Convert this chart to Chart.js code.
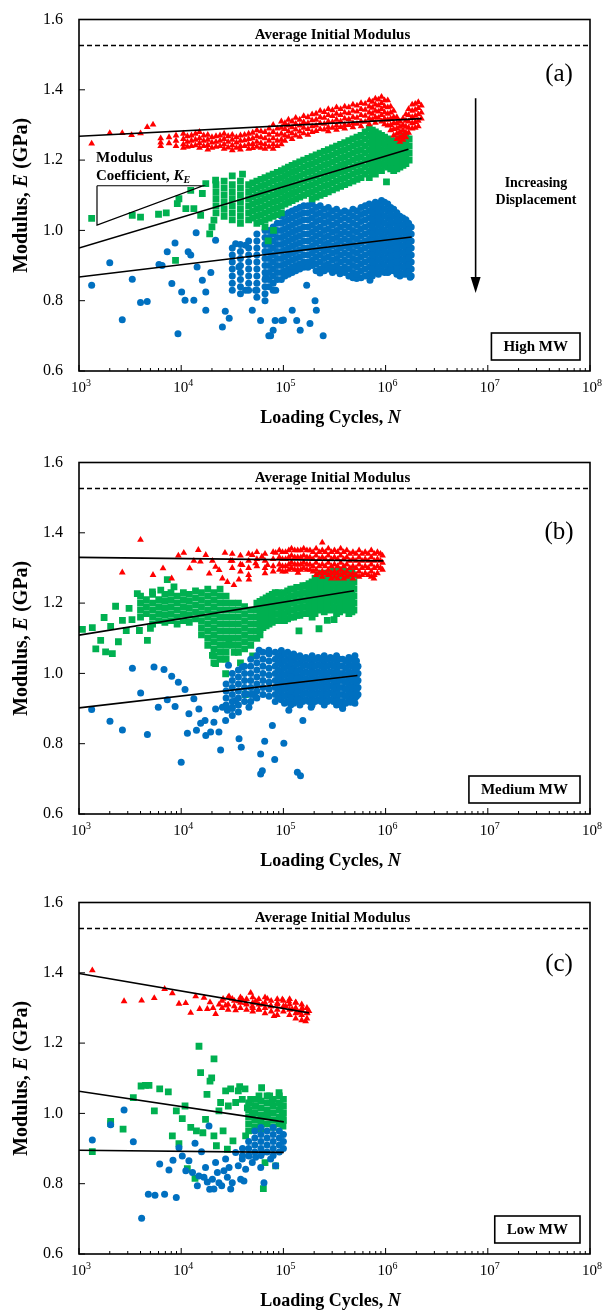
<!DOCTYPE html>
<html><head><meta charset="utf-8">
<script src="https://cdn.jsdelivr.net/npm/chart.js@4"></script>
<style>
html,body{margin:0;padding:0;background:#fff;}
.p{position:absolute;left:0;width:603px;}
canvas{display:block;}
</style></head><body>
<div class="p" style="top:0;height:437px"><canvas id="ca" width="603" height="437"></canvas></div>
<div class="p" style="top:443px;height:437px"><canvas id="cb" width="603" height="437"></canvas></div>
<div class="p" style="top:883px;height:427px"><canvas id="cc" width="603" height="427"></canvas></div>
<script>
// ---------- shared axis data ----------
const xTickExps = [3,4,5,6,7,8];
const yTicks = [0.6,0.8,1.0,1.2,1.4,1.6];
const avgInitialModulus = 1.526;

// ---------- Panel (a) High MW ----------
const aRedPts = [[1330,1.247],[2000,1.277],[2650,1.277],[3270,1.271],[4000,1.276],[4650,1.294],[5300,1.301]];
const aRedCols = [
[6300,[1.262,1.25,1.24]],[7600,[1.265,1.248]],[8900,[1.27,1.255,1.24]],[10500,[1.275,1.26,1.245,1.235]],
[12600,[1.27,1.255,1.24]],[15100,[1.28,1.262,1.248,1.235]],[18200,[1.272,1.258,1.243,1.23]],[21900,[1.268,1.252,1.238]],
[26300,[1.275,1.26,1.245,1.232]],[31600,[1.272,1.258,1.242,1.228]],[38000,[1.27,1.255,1.24,1.23]],[45700,[1.275,1.26,1.245,1.232]],
[55000,[1.285,1.268,1.252,1.238]],[66100,[1.28,1.262,1.245,1.232]],[79400,[1.3,1.28,1.262,1.245,1.232]],[95500,[1.31,1.292,1.275,1.258,1.245]],
[112000,[1.315,1.298,1.282,1.266]],[132000,[1.32,1.303,1.287,1.27]],[158000,[1.325,1.308,1.292,1.276]],[191000,[1.33,1.313,1.296,1.28]],
[229000,[1.34,1.322,1.305,1.288]],[275000,[1.345,1.328,1.31,1.293,1.282]],[331000,[1.35,1.332,1.315,1.298,1.286]],[398000,[1.352,1.335,1.318,1.3,1.29]],
[479000,[1.358,1.34,1.322,1.305,1.293]],[575000,[1.362,1.345,1.328,1.31,1.296]],[692000,[1.37,1.352,1.335,1.318,1.302]],[794000,[1.375,1.358,1.34,1.322,1.306]],
[912000,[1.38,1.362,1.345,1.328,1.31]],[1050000,[1.37,1.35,1.332,1.315,1.298]],[1200000,[1.34,1.322,1.305,1.288,1.27]],[1380000,[1.31,1.295,1.28,1.265,1.252]],
[1580000,[1.33,1.312,1.295,1.278,1.265]],[1820000,[1.358,1.34,1.322,1.305,1.29]],[2090000,[1.365,1.348,1.33,1.312,1.296]],[2240000,[1.355,1.335,1.318]]
];
const aRedColsMid = [
[11500,[1.268,1.252,1.238]],[13800,[1.275,1.258,1.242]],[16600,[1.27,1.255,1.24]],[20000,[1.265,1.25,1.235]],[24000,[1.27,1.255,1.24]],
[28800,[1.268,1.252,1.236]],[34700,[1.265,1.25,1.235]],[41700,[1.272,1.256,1.24]],[50100,[1.278,1.262,1.246,1.234]],[60300,[1.282,1.265,1.248,1.235]],
[72400,[1.29,1.272,1.255,1.238]],[87100,[1.29,1.272,1.255,1.24]],[103500,[1.305,1.288,1.27,1.255]],[121600,[1.31,1.293,1.276,1.26]],
[144500,[1.315,1.298,1.281,1.266]],[173800,[1.322,1.305,1.288,1.272]],[208900,[1.332,1.315,1.298,1.283]],[251200,[1.337,1.32,1.303,1.287]],
[302000,[1.342,1.325,1.308,1.292]],[363100,[1.345,1.328,1.31,1.294]],[436500,[1.35,1.333,1.316,1.3]],[524800,[1.355,1.338,1.32,1.303]],
[631000,[1.36,1.343,1.326,1.309]],[741300,[1.366,1.349,1.332,1.315]],[851100,[1.372,1.355,1.338,1.32]],[977200,[1.37,1.353,1.336,1.318,1.302]],
[1122000,[1.352,1.335,1.318,1.3,1.285]],[1288000,[1.322,1.305,1.29,1.275,1.26]],[1479000,[1.318,1.3,1.285,1.27,1.258]],
[1679000,[1.345,1.328,1.31,1.292,1.278]],[1950000,[1.36,1.343,1.326,1.308,1.292]]
];
const aGreenPts = [[1330,1.034],[3320,1.043],[4000,1.038],[6000,1.046],[7140,1.05],[8800,0.915],[9160,1.076],[9500,1.09],[11100,1.062],
[12400,1.114],[13300,1.062],[15500,1.043],[16100,1.105],[17400,1.133],[19000,0.99],[20000,1.01],[20900,1.029],[21700,1.143],
[31600,1.155],[39800,1.16],[71000,0.97],[80000,1.0],[1020000,1.138]];
const aGreenCols = [
[21900,[1.13,1.11,1.09,1.07,1.05]],[26300,[1.14,1.12,1.1,1.08,1.06,1.04]],[31600,[1.13,1.11,1.09,1.07,1.05,1.03]],
[38000,[1.14,1.12,1.1,1.08,1.06,1.04,1.02]],[45700,[1.13,1.11,1.09,1.07,1.05,1.03]],[55000,[1.14,1.12,1.1,1.08,1.06,1.04,1.02]],
[66100,[1.15,1.13,1.11,1.09,1.07,1.05,1.03,1.01]],[79400,[1.16,1.14,1.12,1.1,1.08,1.06,1.04]],[95500,[1.17,1.15,1.13,1.11,1.09,1.07,1.05]],
[112000,[1.18,1.16,1.14,1.12,1.1,1.08]],[132000,[1.19,1.17,1.15,1.13,1.11,1.09]],[158000,[1.2,1.18,1.16,1.14,1.12,1.1]],
[191000,[1.21,1.19,1.17,1.15,1.13,1.11,1.09]],[229000,[1.22,1.2,1.18,1.16,1.14,1.12,1.1]],[275000,[1.23,1.21,1.19,1.17,1.15,1.13,1.11]],
[331000,[1.24,1.22,1.2,1.18,1.16,1.14,1.12]],[398000,[1.25,1.23,1.21,1.19,1.17,1.15,1.13]],[479000,[1.26,1.24,1.22,1.2,1.18,1.16,1.14]],
[575000,[1.27,1.25,1.23,1.21,1.19,1.17,1.15]],[692000,[1.29,1.27,1.25,1.23,1.21,1.19,1.17,1.15]],[794000,[1.28,1.26,1.24,1.22,1.2,1.18,1.16]],
[912000,[1.27,1.25,1.23,1.21,1.19,1.17]],[1050000,[1.26,1.24,1.22,1.2,1.18]],[1200000,[1.25,1.23,1.21,1.19,1.17]],
[1380000,[1.26,1.24,1.22,1.2,1.18]],[1580000,[1.27,1.25,1.23,1.21,1.19]],[1700000,[1.26,1.24,1.22,1.2]]
];
const aGreenColsMid = [
[50100,[1.135,1.115,1.095,1.075,1.055,1.035]],[60300,[1.145,1.125,1.105,1.085,1.065,1.045,1.025]],[72400,[1.155,1.135,1.115,1.095,1.075,1.055,1.035]],
[87100,[1.165,1.145,1.125,1.105,1.085,1.065,1.045]],[103500,[1.175,1.155,1.135,1.115,1.095,1.075]],[121600,[1.185,1.165,1.145,1.125,1.105,1.085]],
[144500,[1.195,1.175,1.155,1.135,1.115,1.095]],[173800,[1.205,1.185,1.165,1.145,1.125,1.105]],[208900,[1.215,1.195,1.175,1.155,1.135,1.115,1.095]],
[251200,[1.225,1.205,1.185,1.165,1.145,1.125,1.105]],[302000,[1.235,1.215,1.195,1.175,1.155,1.135,1.115]],[363100,[1.245,1.225,1.205,1.185,1.165,1.145,1.125]],
[436500,[1.255,1.235,1.215,1.195,1.175,1.155,1.135]],[524800,[1.265,1.245,1.225,1.205,1.185,1.165,1.145]],[631000,[1.28,1.26,1.24,1.22,1.2,1.18,1.16]],
[741300,[1.285,1.265,1.245,1.225,1.205,1.185,1.165]],[851100,[1.275,1.255,1.235,1.215,1.195,1.175]],[977200,[1.265,1.245,1.225,1.205,1.185]],
[1122000,[1.255,1.235,1.215,1.195,1.175]],[1288000,[1.255,1.235,1.215,1.195,1.175]],[1479000,[1.265,1.245,1.225,1.205,1.185]]
];
const aBluePts = [[1330,0.844],[2000,0.908],[2650,0.746],[3320,0.861],[4000,0.795],[4650,0.798],[6060,0.903],[6500,0.9],[7300,0.939],
[8100,0.849],[8700,0.964],[9300,0.706],[10100,0.825],[10900,0.801],[11700,0.939],[12400,0.93],[13300,0.801],[14000,0.993],[14300,0.896],
[16100,0.858],[17400,0.825],[17400,0.773],[19500,0.88],[21700,0.972],[25300,0.725],[27000,0.77],[29500,0.75],[34100,0.962],[36700,0.896],
[42700,0.958],[42700,0.83],[49600,0.773],[53500,0.83],[59800,0.744],[67100,0.867],[75000,0.70],[72000,0.70],[79400,0.716],[84100,0.83],
[83000,0.744],[96200,0.744],[100000,0.745],[122000,0.773],[135000,0.744],[146000,0.716],[169000,0.844],[182000,0.735],[204000,0.8],
[210000,0.773],[245000,0.70],[228000,0.879],[358000,0.877],[521000,0.863],[703000,0.858],[1060000,0.882],[1740000,0.867]];
const aBlueCols = [
[31600,[0.95,0.93,0.91,0.89,0.87,0.85,0.83]],[38000,[0.96,0.94,0.92,0.9,0.88,0.86,0.84,0.82]],[45700,[0.97,0.95,0.93,0.91,0.89,0.87,0.85,0.83]],
[55000,[0.99,0.97,0.95,0.93,0.91,0.89,0.87,0.85,0.83,0.81]],[66100,[1.0,0.98,0.96,0.94,0.92,0.9,0.88,0.86,0.84,0.82,0.8]],
[79400,[1.01,0.99,0.97,0.95,0.93,0.91,0.89,0.87,0.85,0.83]],[95500,[1.04,1.02,1.0,0.98,0.96,0.94,0.92,0.9,0.88,0.86]],
[112000,[1.05,1.03,1.01,0.99,0.97,0.95,0.93,0.91,0.89,0.875]],[132000,[1.06,1.04,1.02,1.0,0.98,0.96,0.94,0.92,0.9,0.885]],
[158000,[1.07,1.05,1.03,1.01,0.99,0.97,0.95,0.93,0.91,0.895]],[191000,[1.075,1.055,1.035,1.015,0.995,0.975,0.955,0.935,0.915,0.9]],
[229000,[1.07,1.05,1.03,1.01,0.99,0.97,0.95,0.93,0.91,0.89,0.88]],[275000,[1.065,1.045,1.025,1.005,0.985,0.965,0.945,0.925,0.905,0.89]],
[331000,[1.06,1.04,1.02,1.0,0.98,0.96,0.94,0.92,0.9,0.885]],[398000,[1.055,1.035,1.015,0.995,0.975,0.955,0.935,0.915,0.895,0.88]],
[479000,[1.06,1.04,1.02,1.0,0.98,0.96,0.94,0.92,0.9,0.88,0.865]],[575000,[1.065,1.045,1.025,1.005,0.985,0.965,0.945,0.925,0.905,0.885,0.865]],
[692000,[1.075,1.055,1.035,1.015,0.995,0.975,0.955,0.935,0.915,0.895,0.875]],[794000,[1.08,1.06,1.04,1.02,1.0,0.98,0.96,0.94,0.92,0.9,0.88]],
[912000,[1.085,1.065,1.045,1.025,1.005,0.985,0.965,0.945,0.925,0.905,0.885]],[1050000,[1.075,1.055,1.035,1.015,0.995,0.975,0.955,0.935,0.915,0.895,0.88]],
[1200000,[1.06,1.04,1.02,1.0,0.98,0.96,0.94,0.92,0.9,0.885]],[1380000,[1.04,1.02,1.0,0.98,0.96,0.94,0.92,0.9,0.88,0.87]],
[1580000,[1.03,1.01,0.99,0.97,0.95,0.93,0.91,0.89,0.875]],[1780000,[1.01,0.99,0.97,0.95,0.93,0.91,0.89,0.87]]
];
const aBlueColsMid = [
[72400,[1.0,0.98,0.96,0.94,0.92,0.9,0.88,0.86,0.84]],[87100,[1.02,1.0,0.98,0.96,0.94,0.92,0.9,0.88,0.86]],
[103500,[1.045,1.025,1.005,0.985,0.965,0.945,0.925,0.905,0.885,0.87]],[121600,[1.055,1.035,1.015,0.995,0.975,0.955,0.935,0.915,0.895,0.88]],
[144500,[1.065,1.045,1.025,1.005,0.985,0.965,0.945,0.925,0.905,0.89]],[173800,[1.07,1.05,1.03,1.01,0.99,0.97,0.95,0.93,0.91,0.895]],
[208900,[1.065,1.045,1.025,1.005,0.985,0.965,0.945,0.925,0.905,0.885]],[251200,[1.06,1.04,1.02,1.0,0.98,0.96,0.94,0.92,0.9,0.885]],
[302000,[1.055,1.035,1.015,0.995,0.975,0.955,0.935,0.915,0.895,0.88]],[363100,[1.05,1.03,1.01,0.99,0.97,0.95,0.93,0.91,0.89]],
[436500,[1.05,1.03,1.01,0.99,0.97,0.95,0.93,0.91,0.89,0.87]],[524800,[1.055,1.035,1.015,0.995,0.975,0.955,0.935,0.915,0.895,0.875]],
[631000,[1.07,1.05,1.03,1.01,0.99,0.97,0.95,0.93,0.91,0.89,0.87]],[741300,[1.07,1.05,1.03,1.01,0.99,0.97,0.95,0.93,0.91,0.89,0.87]],
[851100,[1.075,1.055,1.035,1.015,0.995,0.975,0.955,0.935,0.915,0.895,0.875]],[977200,[1.08,1.06,1.04,1.02,1.0,0.98,0.96,0.94,0.92,0.9,0.88]],
[1122000,[1.065,1.045,1.025,1.005,0.985,0.965,0.945,0.925,0.905,0.885]],[1288000,[1.05,1.03,1.01,0.99,0.97,0.95,0.93,0.91,0.89,0.875]],
[1479000,[1.035,1.015,0.995,0.975,0.955,0.935,0.915,0.895,0.875]],[1679000,[1.02,1.0,0.98,0.96,0.94,0.92,0.9,0.88]]
];
const aRedFit = [[1000,1.268],[2250000,1.318]];
const aGreenFit = [[1000,0.950],[1670000,1.231]];
const aBlueFit = [[1000,0.8675],[1800000,0.981]];
const aSlopeTriangle = [[1500,1.127],[1500,1.015],[16300,1.127],[1500,1.127]];
const aArrow = [[7600000,1.376],[7600000,0.822]];

// ---------- Panel (b) Medium MW ----------
const bRedPts = [[4000,1.38],[2650,1.287],[5300,1.28],[6640,1.299],[8070,1.27],[9380,1.335],[10600,1.343],[12100,1.299],[13300,1.32],
[14700,1.351],[15400,1.318],[17400,1.337],[18800,1.284],[20200,1.32],[21700,1.303],[23500,1.294],[25300,1.27],[26800,1.343],[28300,1.26],
[30500,1.32],[32800,1.251],[36700,1.267],[39600,1.308],[46000,1.267],[49600,1.337],[53500,1.313],[61600,1.332],[70000,1.308],[84000,1.343],
[139000,1.286],[240000,1.372],[769000,1.27]];
const bRedCols = [
[31600,[1.34,1.32,1.30]],[38000,[1.335,1.31,1.29]],[45700,[1.34,1.32,1.30,1.28]],[55000,[1.345,1.325,1.305]],[66100,[1.34,1.32,1.30,1.285]],
[79400,[1.345,1.325,1.305,1.29]],[91200,[1.35,1.33,1.31,1.295]],[105000,[1.345,1.325,1.305,1.29]],[120000,[1.355,1.335,1.315,1.3]],
[138000,[1.35,1.33,1.31,1.295]],[158000,[1.355,1.335,1.315,1.3]],[182000,[1.35,1.33,1.31,1.295]],[209000,[1.355,1.335,1.315,1.295,1.28]],
[240000,[1.35,1.33,1.31,1.29,1.275]],[275000,[1.355,1.335,1.315,1.295,1.28]],[316000,[1.35,1.33,1.31,1.29,1.275]],
[363000,[1.355,1.335,1.315,1.295,1.28]],[417000,[1.35,1.33,1.31,1.29,1.275]],[479000,[1.345,1.325,1.305,1.285,1.27]],
[550000,[1.35,1.33,1.31,1.29,1.275]],[631000,[1.345,1.325,1.305,1.285]],[724000,[1.35,1.33,1.31,1.29,1.275]],
[832000,[1.345,1.325,1.305,1.285]],[933000,[1.335,1.315,1.295]]
];
const bRedColsMid = [
[98000,[1.345,1.325,1.305,1.29]],[113000,[1.35,1.33,1.31,1.295]],[129000,[1.35,1.33,1.31,1.295]],[148000,[1.35,1.33,1.31,1.295]],
[170000,[1.35,1.33,1.31,1.295]],[195000,[1.345,1.325,1.305,1.29]],[224000,[1.345,1.325,1.305,1.285]],[257000,[1.345,1.325,1.305,1.285]],
[295000,[1.345,1.325,1.305,1.285,1.27]],[339000,[1.345,1.325,1.305,1.285,1.27]],[389000,[1.345,1.325,1.305,1.285,1.27]],
[447000,[1.34,1.32,1.30,1.28]],[513000,[1.34,1.32,1.30,1.28]],[589000,[1.34,1.32,1.30,1.28]],[676000,[1.34,1.32,1.30,1.28]],
[776000,[1.34,1.32,1.30,1.28]],[891000,[1.34,1.32,1.30]]
];
const bGreenPts = [[1080,1.125],[1350,1.13],[1460,1.07],[1630,1.094],[1760,1.159],[1820,1.061],[2040,1.134],[2120,1.056],[2280,1.191],
[2430,1.09],[2660,1.151],[2900,1.122],[3090,1.185],[3300,1.153],[3720,1.227],[3900,1.122],[4670,1.094],[5000,1.128],[5230,1.232],
[6310,1.237],[7310,1.267],[8500,1.246],[20200,1.051],[21700,1.028],[27200,0.999],[29300,1.094],[42500,0.94],[142000,1.121],
[223000,1.127],[269000,1.151],[313000,1.153],[24000,1.04],[33000,1.06],[38000,1.03],[50000,1.05]];
const bGreenCols = [
[4000,[1.22,1.2,1.18,1.16]],[4570,[1.21,1.19,1.17]],[5250,[1.225,1.2,1.18,1.16,1.14]],[6030,[1.21,1.19,1.17,1.15]],
[6920,[1.225,1.205,1.185,1.165,1.145]],[7940,[1.23,1.21,1.19,1.17,1.15]],[9120,[1.22,1.2,1.18,1.16,1.14]],[10500,[1.23,1.21,1.19,1.17,1.15]],
[12000,[1.225,1.205,1.185,1.165,1.145]],[13800,[1.235,1.215,1.195,1.175,1.155]],[15800,[1.23,1.21,1.19,1.17,1.15,1.13,1.11]],
[18200,[1.24,1.22,1.2,1.18,1.16,1.14,1.12,1.1,1.08]],[20900,[1.23,1.21,1.19,1.17,1.15,1.13,1.11,1.09,1.07,1.05,1.03]],
[24000,[1.24,1.22,1.2,1.18,1.16,1.14,1.12,1.1,1.08,1.06]],[27500,[1.22,1.2,1.18,1.16,1.14,1.12,1.1,1.08,1.06,1.04]],
[31600,[1.2,1.18,1.16,1.14,1.12,1.1,1.08]],[36300,[1.2,1.18,1.16,1.14,1.12,1.1,1.08,1.06]],[41700,[1.19,1.17,1.15,1.13,1.11,1.09,1.07]],
[47900,[1.18,1.16,1.14,1.12,1.1,1.08]],[55000,[1.2,1.18,1.16,1.14,1.12,1.1]],[63100,[1.21,1.19,1.17,1.15,1.13]],
[72400,[1.22,1.2,1.18,1.16,1.14]],[83200,[1.23,1.21,1.19,1.17,1.15]],[95500,[1.225,1.205,1.185,1.165,1.15]],
[110000,[1.235,1.215,1.195,1.175,1.155]],[126000,[1.24,1.22,1.2,1.18,1.16]],[145000,[1.245,1.225,1.205,1.185,1.165]],
[166000,[1.25,1.23,1.21,1.19,1.17]],[191000,[1.26,1.24,1.22,1.2,1.18,1.16]],[219000,[1.28,1.26,1.24,1.22,1.2,1.18]],
[251000,[1.275,1.255,1.235,1.215,1.195,1.175]],[288000,[1.28,1.26,1.24,1.22,1.2,1.18]],[331000,[1.285,1.265,1.245,1.225,1.205,1.185,1.17]],
[380000,[1.28,1.26,1.24,1.22,1.2,1.18]],[437000,[1.285,1.265,1.245,1.225,1.205,1.185,1.17]],[490000,[1.28,1.26,1.24,1.22,1.2,1.18]]
];
const bGreenColsMid = [
[59000,[1.205,1.185,1.165,1.145,1.125,1.11]],[67800,[1.215,1.195,1.175,1.155,1.135]],[77800,[1.225,1.205,1.185,1.165,1.145]],
[89300,[1.23,1.21,1.19,1.17,1.15]],[102500,[1.23,1.21,1.19,1.17,1.15]],[118000,[1.24,1.22,1.2,1.18,1.16]],
[135000,[1.245,1.225,1.205,1.185,1.165]],[155000,[1.25,1.23,1.21,1.19,1.17]],[178000,[1.255,1.235,1.215,1.195,1.175]],
[204000,[1.27,1.25,1.23,1.21,1.19,1.17]],[234000,[1.285,1.265,1.245,1.225,1.205,1.185]],[269000,[1.285,1.265,1.245,1.225,1.205,1.185]],
[309000,[1.29,1.27,1.25,1.23,1.21,1.19]],[355000,[1.29,1.27,1.25,1.23,1.21,1.19,1.175]],[407000,[1.29,1.27,1.25,1.23,1.21,1.19]],
[468000,[1.29,1.27,1.25,1.23,1.21,1.19,1.175]]
];
const bBluePts = [[1330,0.897],[2010,0.864],[2660,0.839],[3330,1.015],[4010,0.944],[4670,0.826],[5420,1.018],[5970,0.904],[6790,1.011],
[7310,0.925],[8070,0.992],[8710,0.906],[9380,0.975],[10000,0.747],[10900,0.954],[11500,0.83],[11900,0.885],[13300,0.928],[14100,0.838],
[14900,0.899],[15500,0.858],[17100,0.866],[17400,0.823],[19400,0.833],[20900,0.861],[21700,0.899],[23400,0.833],[24300,0.782],
[25300,0.904],[27200,0.866],[28300,0.895],[31600,0.904],[34100,0.923],[36800,0.814],[38700,0.79],[42800,0.942],[46000,0.904],
[49600,0.942],[53500,0.933],[59900,0.771],[59900,0.714],[62200,0.723],[65600,0.807],[78000,0.852],[82200,0.755],[101000,0.801],
[113000,0.895],[137000,0.719],[147000,0.709],[155000,0.866],[187000,0.904],[232000,0.923],[378000,0.904],[455000,0.918],
[29000,1.023],[39700,1.018],[57900,1.066],[72000,1.066]];
const bBlueCols = [
[27500,[0.97,0.95,0.93,0.91]],[31600,[1.0,0.98,0.96,0.94,0.92,0.9,0.88]],[36300,[1.01,0.99,0.97,0.95,0.93,0.91,0.89]],
[41700,[1.02,1.0,0.98,0.96,0.94,0.92]],[47900,[1.04,1.02,1.0,0.98,0.96,0.94,0.92]],[55000,[1.05,1.03,1.01,0.99,0.97,0.95,0.93]],
[63100,[1.06,1.04,1.02,1.0,0.98,0.96,0.94]],[72400,[1.055,1.035,1.015,0.995,0.975,0.955,0.935]],[83200,[1.06,1.04,1.02,1.0,0.98,0.96,0.94,0.92]],
[95500,[1.065,1.045,1.025,1.005,0.985,0.965,0.945,0.925]],[110000,[1.06,1.04,1.02,1.0,0.98,0.96,0.94,0.92]],
[126000,[1.055,1.035,1.015,0.995,0.975,0.955,0.935,0.915]],[145000,[1.05,1.03,1.01,0.99,0.97,0.95,0.93,0.91]],
[166000,[1.045,1.025,1.005,0.985,0.965,0.945,0.925]],[191000,[1.05,1.03,1.01,0.99,0.97,0.95,0.93,0.91]],
[219000,[1.045,1.025,1.005,0.985,0.965,0.945,0.925]],[251000,[1.05,1.03,1.01,0.99,0.97,0.95,0.93,0.91]],
[288000,[1.045,1.025,1.005,0.985,0.965,0.945,0.925]],[331000,[1.05,1.03,1.01,0.99,0.97,0.95,0.93,0.91]],
[380000,[1.04,1.02,1.0,0.98,0.96,0.94,0.92,0.9]],[437000,[1.045,1.025,1.005,0.985,0.965,0.945,0.925]],
[501000,[1.05,1.03,1.01,0.99,0.97,0.95,0.93,0.915]],[537000,[1.02,1.0,0.98,0.96,0.94]]
];
const bBlueColsMid = [
[89300,[1.05,1.03,1.01,0.99,0.97,0.95,0.93]],[102500,[1.055,1.035,1.015,0.995,0.975,0.955,0.935,0.915]],
[118000,[1.05,1.03,1.01,0.99,0.97,0.95,0.93,0.91]],[135000,[1.045,1.025,1.005,0.985,0.965,0.945,0.925]],
[155000,[1.04,1.02,1.0,0.98,0.96,0.94,0.92]],[178000,[1.04,1.02,1.0,0.98,0.96,0.94,0.92]],[204000,[1.04,1.02,1.0,0.98,0.96,0.94,0.92]],
[234000,[1.04,1.02,1.0,0.98,0.96,0.94,0.92]],[269000,[1.04,1.02,1.0,0.98,0.96,0.94,0.92]],[309000,[1.04,1.02,1.0,0.98,0.96,0.94,0.92]],
[355000,[1.04,1.02,1.0,0.98,0.96,0.94,0.92]],[407000,[1.035,1.015,0.995,0.975,0.955,0.935,0.915]],
[468000,[1.04,1.02,1.0,0.98,0.96,0.94,0.92]],[519000,[1.035,1.015,0.995,0.975,0.955,0.935]]
];
const bRedFit = [[1000,1.33],[950000,1.32]];
const bGreenFit = [[1000,1.109],[490000,1.235]];
const bBlueFit = [[1000,0.902],[530000,0.994]];

// ---------- Panel (c) Low MW ----------
const cRedPts = [[1350,1.407],[2760,1.319],[4100,1.321],[5450,1.328],[6880,1.354],[8190,1.342],[9510,1.312],[11070,1.314],[12380,1.286],
[13850,1.333],[15170,1.297],[16720,1.329],[18020,1.297],[19140,1.316],[20500,1.3],[21730,1.283],[23500,1.31],[25700,1.326],[27200,1.307],
[29380,1.333],[31600,1.326],[34120,1.293],[36800,1.319],[39600,1.324],[42700,1.314],[47860,1.343],[49700,1.305],[53500,1.319],
[57700,1.296],[62200,1.31],[69600,1.326],[75000,1.305],[80900,1.277],[87300,1.314],[97700,1.324],[105000,1.305],[113000,1.319],
[122000,1.296],[132000,1.316],[142000,1.286],[153000,1.3],[165000,1.262],[171000,1.286],[178000,1.291]];
const cRedCols = [
[25100,[1.32,1.3]],[28800,[1.33,1.31,1.295]],[33100,[1.32,1.305]],[38000,[1.33,1.315,1.3]],[43600,[1.325,1.31,1.295]],
[50100,[1.33,1.315,1.3,1.29]],[57500,[1.325,1.31,1.295]],[66100,[1.33,1.315,1.3,1.285]],[75900,[1.32,1.305,1.29]],
[87100,[1.325,1.31,1.295,1.28]],[100000,[1.32,1.305,1.29]],[115000,[1.325,1.31,1.295,1.28]],[132000,[1.315,1.3,1.285,1.27]],
[151000,[1.31,1.295,1.28,1.265]],[170000,[1.3,1.285,1.27]]
];
const cGreenPts = [[1350,0.891],[2040,0.977],[2040,0.971],[2700,0.955],[3400,1.045],[4050,1.078],[4470,1.08],[4840,1.08],[5460,1.007],
[6160,1.07],[7480,1.061],[8190,0.936],[8960,1.007],[9500,0.914],[10250,0.985],[10900,1.021],[11480,0.843],[12400,0.96],[13650,0.815],
[14100,0.95],[14930,1.191],[15480,1.116],[16300,0.945],[17300,0.983],[17870,1.054],[19140,1.092],[19870,1.101],[20940,1.155],
[20900,0.936],[22100,0.908],[23400,1.007],[24300,1.031],[25700,0.95],[27200,1.064],[28300,0.898],[28900,1.021],[30500,1.07],
[32100,0.922],[34100,1.031],[36200,1.064],[37320,1.076],[39600,1.04],[42100,1.07],[42700,0.936],[44400,1.016],[47800,1.04],
[49600,0.993],[53500,1.021],[57700,1.05],[61200,1.073],[63660,0.786],[66100,0.86],[69600,0.993],[73400,1.05],[78000,1.031],
[84000,0.851],[90600,1.059],[94000,1.021],[97600,0.993],[99100,0.964]];
const cGreenCols = [
[45700,[1.03,1.01,0.99,0.97,0.95]],[52500,[1.04,1.02,1.0,0.98,0.96]],[60300,[1.035,1.015,0.995,0.975,0.955]],
[69200,[1.05,1.03,1.01,0.99,0.97]],[79400,[1.04,1.02,1.0,0.98,0.96]],[91200,[1.05,1.03,1.01,0.99,0.97]],[100000,[1.04,1.02,1.0,0.98]]
];
const cBluePts = [[1350,0.924],[2040,0.968],[2760,1.01],[3400,0.919],[4100,0.702],[4770,0.77],[5540,0.767],[6880,0.77],[8950,0.761],
[6160,0.856],[7590,0.839],[8310,0.867],[9510,0.902],[10250,0.879],[11100,0.837],[11900,0.865],[12900,0.832],[13650,0.915],[14390,0.794],
[14900,0.822],[15800,0.891],[16700,0.818],[17300,0.846],[18000,0.805],[18700,0.964],[19000,0.784],[20200,0.813],[20900,0.785],
[21700,0.86],[22600,0.832],[23400,0.803],[24900,0.794],[26200,0.837],[27200,0.87],[28300,0.818],[29400,0.846],[30500,0.785],
[31600,0.803],[34100,0.889],[36200,0.851],[38200,0.813],[39600,0.87],[41100,0.808],[42700,0.841],[46100,0.879],[49600,0.86],
[53500,0.875],[60000,0.846],[62200,0.889],[64550,0.803],[75000,0.87],[84000,0.851]];
const cBlueCols = [
[39800,[0.9,0.88]],[45700,[0.92,0.9,0.88]],[52500,[0.95,0.93,0.91,0.89]],[60300,[0.96,0.94,0.92,0.9,0.88]],
[69200,[0.95,0.93,0.91,0.89]],[79400,[0.96,0.94,0.92,0.9,0.88]],[91200,[0.95,0.93,0.91,0.89]],[100000,[0.94,0.92,0.9]]
];
const cRedFit = [[1000,1.398],[178000,1.286]];
const cGreenFit = [[1000,1.063],[101000,0.976]];
const cBlueFit = [[1000,0.895],[101000,0.889]];

// ---------- helpers ----------
const SERIF = '"Liberation Serif","Times New Roman",serif';
const RED = '#FF0000', GREEN = '#00B050', BLUE = '#0070C0';
const pts = (p, ...colSets) => p.map(([x,y])=>({x,y})).concat(colSets.flat().flatMap(([x,ys])=>ys.map(y=>({x,y}))));
const line = arr => arr.map(([x,y])=>({x,y}));

function rich(ctx, parts, x, y, align){
  let w = 0;
  parts.forEach(p=>{ctx.font=p.f; p.w = ctx.measureText(p.t).width; w += p.w;});
  let cx = align==='center' ? x - w/2 : (align==='right' ? x - w : x);
  parts.forEach(p=>{ctx.font=p.f; ctx.textAlign='left'; ctx.fillText(p.t, cx, y + (p.dy||0)); cx += p.w;});
  return w;
}

function makePanel(id, cfg){
  const canvas = document.getElementById(id);
  const H = canvas.height;
  const plotTop = 19.5, plotBottom = 371;
  const deco = {
    id:'deco',
    afterDraw(chart){
      const ctx = chart.ctx, a = chart.chartArea, xs = chart.scales.x, ys = chart.scales.y;
      ctx.save();
      ctx.fillStyle = '#000'; ctx.strokeStyle = '#000';
      ctx.lineWidth = 1.6;
      ctx.strokeRect(a.left, a.top, a.right - a.left, a.bottom - a.top);
      ctx.lineWidth = 1;
      ctx.beginPath();
      xTickExps.forEach(e=>{
        const px = xs.getPixelForValue(Math.pow(10,e));
        ctx.moveTo(px, a.bottom); ctx.lineTo(px, a.bottom - 6);
        if (e < 8) for (let m=2;m<=9;m++){
          const mx = xs.getPixelForValue(m*Math.pow(10,e));
          ctx.moveTo(mx, a.bottom); ctx.lineTo(mx, a.bottom - 3);
        }
      });
      yTicks.forEach(v=>{
        const py = ys.getPixelForValue(v);
        ctx.moveTo(a.left, py); ctx.lineTo(a.left + 6, py);
      });
      ctx.stroke();
      ctx.textBaseline = 'middle'; ctx.textAlign = 'right';
      ctx.font = '16px ' + SERIF;
      yTicks.forEach(v=>ctx.fillText(v.toFixed(1), a.left - 16, ys.getPixelForValue(v)));
      ctx.textBaseline = 'alphabetic';
      xTickExps.forEach(e=>{
        const px = xs.getPixelForValue(Math.pow(10,e));
        rich(ctx, [{t:'10', f:'15px '+SERIF},{t:String(e), f:'10px '+SERIF, dy:-6}], px + 2, a.bottom + 21, 'center');
      });
      rich(ctx, [{t:'Loading Cycles, ', f:'bold 18px '+SERIF},{t:'N', f:'italic bold 18px '+SERIF}], (a.left+a.right)/2 - 4, a.bottom + 52, 'center');
      ctx.save();
      ctx.translate(27, (a.top + a.bottom)/2);
      ctx.rotate(-Math.PI/2);
      rich(ctx, [{t:'Modulus, ', f:'bold 20px '+SERIF},{t:'E', f:'italic bold 20px '+SERIF},{t:' (GPa)', f:'bold 20px '+SERIF}], 0, 0, 'center');
      ctx.restore();
      ctx.textAlign = 'center';
      ctx.font = 'bold 15px ' + SERIF;
      ctx.fillText('Average Initial Modulus', (a.left+a.right)/2 - 2, ys.getPixelForValue(avgInitialModulus) - 7);
      ctx.font = '25px ' + SERIF;
      ctx.textBaseline = 'middle';
      ctx.fillText(cfg.letter, 559, ys.getPixelForValue(cfg.letterE));
      ctx.font = 'bold 15px ' + SERIF;
      const tw = ctx.measureText(cfg.box).width;
      const bw = tw + 24, bx = 580 - bw, by = a.bottom - 38, bh = 27;
      ctx.lineWidth = 1.6;
      ctx.strokeRect(bx, by, bw, bh);
      ctx.fillText(cfg.box, bx + bw/2, by + bh/2 + 1);
      if (cfg.arrow){
        const ax = xs.getPixelForValue(cfg.arrow[0][0]);
        const y1 = ys.getPixelForValue(cfg.arrow[0][1]), y2 = ys.getPixelForValue(cfg.arrow[1][1]);
        ctx.lineWidth = 1.6;
        ctx.beginPath(); ctx.moveTo(ax, y1); ctx.lineTo(ax, y2 - 14); ctx.stroke();
        ctx.beginPath(); ctx.moveTo(ax - 5, y2 - 16); ctx.lineTo(ax + 5, y2 - 16); ctx.lineTo(ax, y2); ctx.closePath(); ctx.fill();
        ctx.font = 'bold 14px ' + SERIF; ctx.textAlign = 'center';
        ctx.fillText('Increasing', 536, 183);
        ctx.fillText('Displacement', 536, 200);
      }
      if (cfg.coef){
        ctx.textAlign = 'left'; ctx.textBaseline = 'middle';
        ctx.font = 'bold 15px ' + SERIF;
        ctx.fillText('Modulus', 96, 158);
        rich(ctx, [{t:'Coefficient, ', f:'bold 15px '+SERIF},{t:'K', f:'italic bold 15px '+SERIF},{t:'E', f:'italic bold 10px '+SERIF, dy:4}], 96, 176, 'left');
      }
      ctx.restore();
    }
  };
  const ds = [];
  const L = (data, extra) => Object.assign({type:'scatter', data:line(data), showLine:true, borderColor:'#000', borderWidth:1.6, pointRadius:0, fill:false, order:0}, extra||{});
  ds.push(L([[1000,avgInitialModulus],[1e8,avgInitialModulus]], {borderDash:[5,3], borderWidth:1.5}));
  ds.push(L(cfg.redFit)); ds.push(L(cfg.greenFit)); ds.push(L(cfg.blueFit));
  if (cfg.tri) ds.push(L(cfg.tri, {borderWidth:1.2}));
  ds.push({type:'scatter', data:pts(...cfg.red), pointStyle:'triangle', pointRadius:3.9, backgroundColor:RED, borderWidth:0, order:1});
  ds.push({type:'scatter', data:pts(...cfg.blue), pointStyle:'circle', pointRadius:3.5, backgroundColor:BLUE, borderWidth:0, order:cfg.blueOrder});
  ds.push({type:'scatter', data:pts(...cfg.green), pointStyle:'rect', pointRadius:4.8, backgroundColor:GREEN, borderWidth:0, order:cfg.greenOrder});
  new Chart(canvas, {
    type:'scatter',
    data:{datasets:ds},
    options:{
      responsive:false, animation:false, devicePixelRatio:1,
      layout:{padding:{left:0, right:13, top:plotTop, bottom:0}},
      plugins:{legend:{display:false}, tooltip:{enabled:false}},
      scales:{
        x:{type:'logarithmic', min:1e3, max:1e8, grid:{display:false}, border:{display:false}, ticks:{display:false},
           afterFit(s){ s.height = H - plotBottom; }},
        y:{type:'linear', min:0.6, max:1.6, grid:{display:false}, border:{display:false}, ticks:{display:false},
           afterFit(s){ s.width = 79; }}
      }
    },
    plugins:[deco]
  });
}

makePanel('ca', {letter:'(a)', letterE:1.444, box:'High MW', arrow:aArrow, coef:true, tri:aSlopeTriangle,
  red:[aRedPts,aRedCols,aRedColsMid], green:[aGreenPts,aGreenCols,aGreenColsMid], blue:[aBluePts,aBlueCols,aBlueColsMid],
  redFit:aRedFit, greenFit:aGreenFit, blueFit:aBlueFit, greenOrder:2, blueOrder:3});
makePanel('cb', {letter:'(b)', letterE:1.40, box:'Medium MW',
  red:[bRedPts,bRedCols,bRedColsMid], green:[bGreenPts,bGreenCols,bGreenColsMid], blue:[bBluePts,bBlueCols,bBlueColsMid],
  redFit:bRedFit, greenFit:bGreenFit, blueFit:bBlueFit, greenOrder:3, blueOrder:2});
makePanel('cc', {letter:'(c)', letterE:1.423, box:'Low MW',
  red:[cRedPts,cRedCols], green:[cGreenPts,cGreenCols], blue:[cBluePts,cBlueCols],
  redFit:cRedFit, greenFit:cGreenFit, blueFit:cBlueFit, greenOrder:3, blueOrder:2});
</script>
</body></html>
